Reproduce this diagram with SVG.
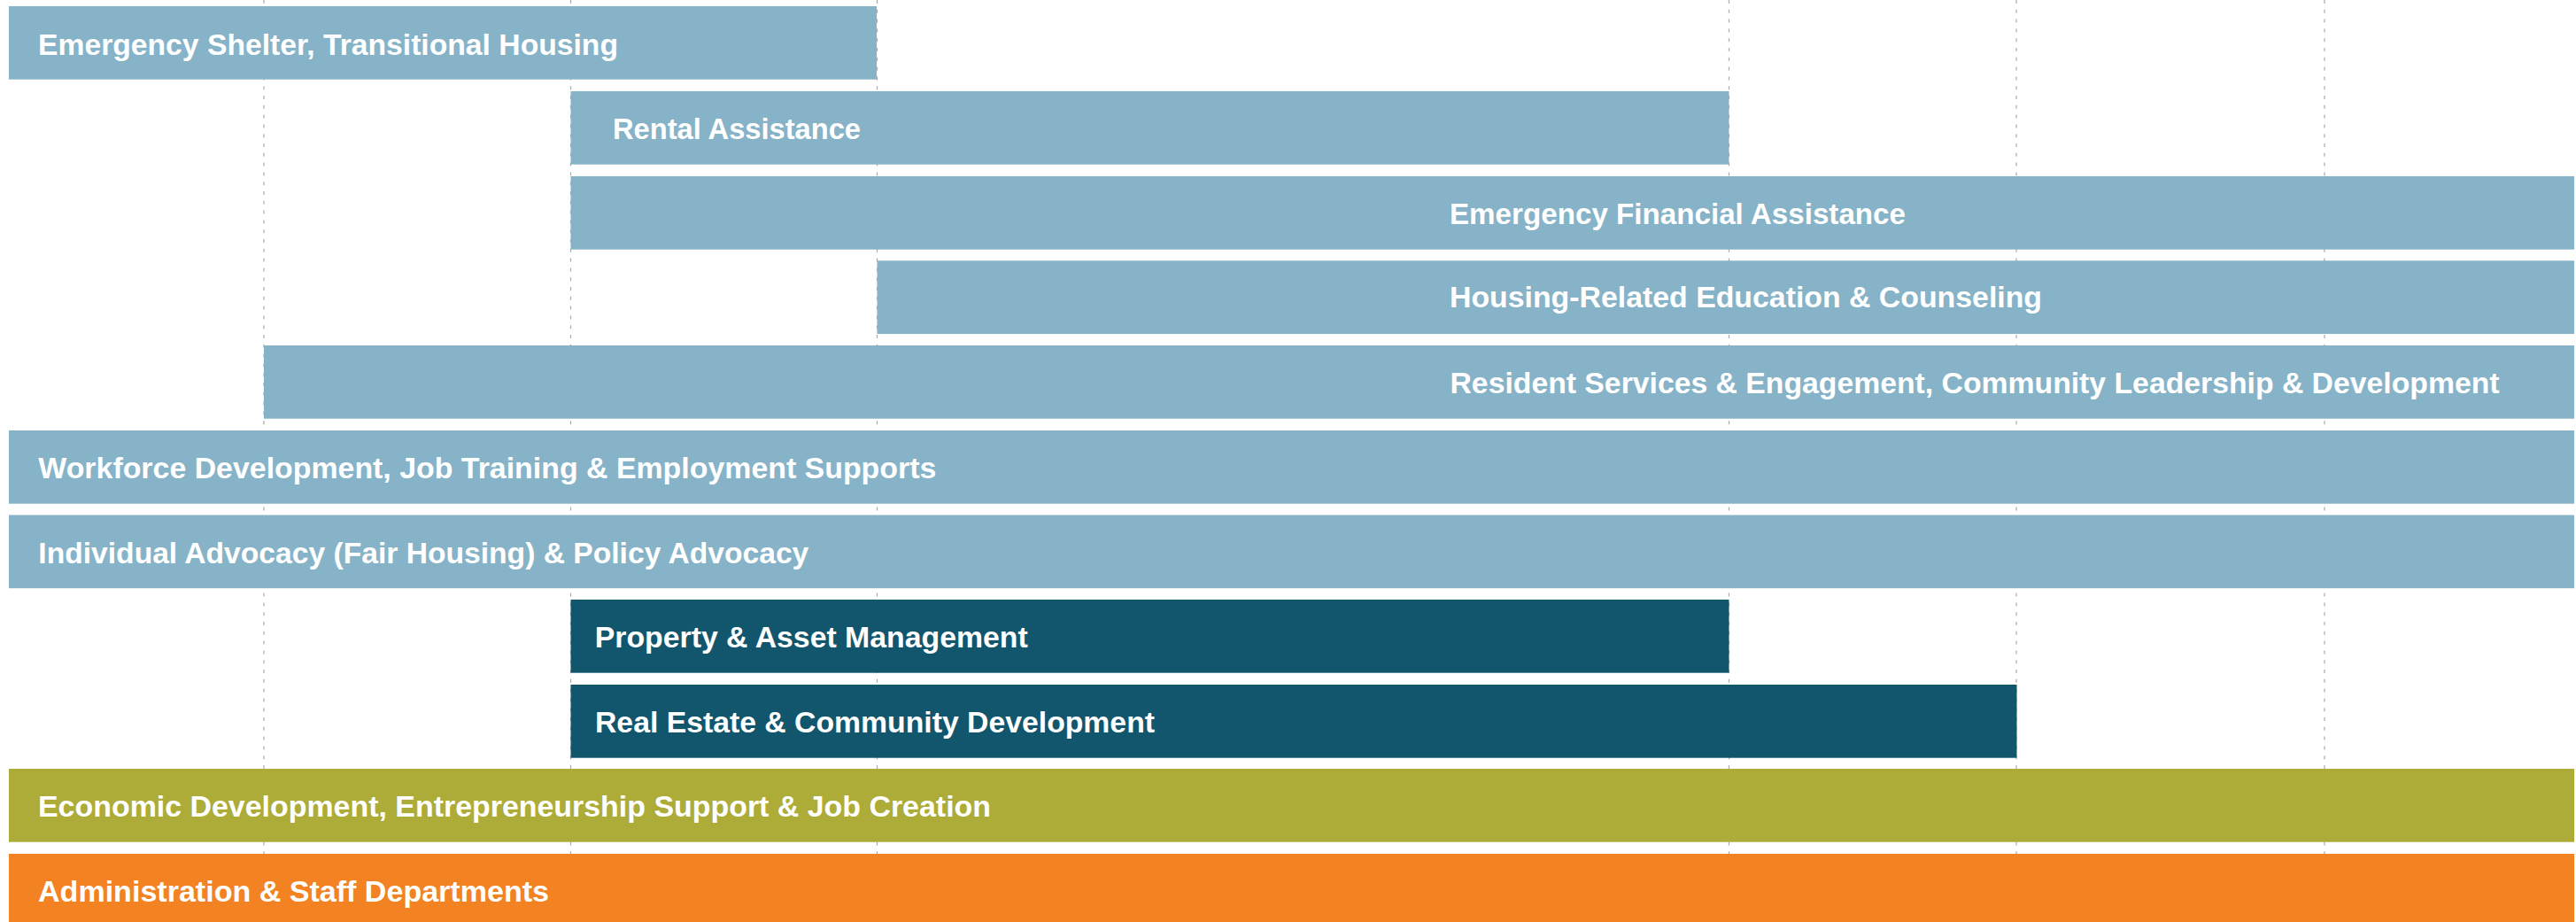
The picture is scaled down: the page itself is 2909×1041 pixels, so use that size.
<svg xmlns="http://www.w3.org/2000/svg" width="2909" height="1041" viewBox="0 0 2909 1041">
  <style>
    .grid line { stroke: #a8a8a8; stroke-width: 1.2; stroke-dasharray: 4 6.8; }
    .bar { stroke: none; }
    .light { fill: #86B3C8; }
    .dark { fill: #12566E; }
    .green { fill: #ADAC38; }
    .orange { fill: #F38322; }
    .lbl { font-family: "Liberation Sans", Arial, sans-serif; font-weight: 700; font-size: 33px; fill: #ffffff; }
  </style>
  <rect x="0" y="0" width="2909" height="1041" fill="#ffffff"/>

  <!-- dashed timeline guides behind the bars -->
  <g id="gridlines" class="grid">
    <line x1="298" y1="0" x2="298" y2="1041"/>
    <line x1="644.5" y1="0" x2="644.5" y2="1041"/>
    <line x1="990.5" y1="0" x2="990.5" y2="1041"/>
    <line x1="1952.5" y1="0" x2="1952.5" y2="1041"/>
    <line x1="2277" y1="0" x2="2277" y2="1041"/>
    <line x1="2625" y1="0" x2="2625" y2="1041"/>
  </g>

  <g id="emergency-shelter">
    <rect class="bar light" x="10" y="7" width="980" height="82.7"/>
    <text class="lbl" x="43" y="61.5" textLength="655" lengthAdjust="spacingAndGlyphs">Emergency Shelter, Transitional Housing</text>
  </g>
  <g id="rental-assistance">
    <rect class="bar light" x="644.5" y="103" width="1308" height="82.7"/>
    <text class="lbl" x="692" y="157.3" textLength="280" lengthAdjust="spacingAndGlyphs">Rental Assistance</text>
  </g>
  <g id="emergency-financial">
    <rect class="bar light" x="644.5" y="199" width="2262.5" height="82.7"/>
    <text class="lbl" x="1637" y="252.7" textLength="515" lengthAdjust="spacingAndGlyphs">Emergency Financial Assistance</text>
  </g>
  <g id="housing-education">
    <rect class="bar light" x="990.5" y="294.3" width="1916.5" height="82.7"/>
    <text class="lbl" x="1637" y="347" textLength="669" lengthAdjust="spacingAndGlyphs">Housing-Related Education &amp; Counseling</text>
  </g>
  <g id="resident-services">
    <rect class="bar light" x="298" y="390" width="2609" height="82.7"/>
    <text class="lbl" x="1637.5" y="444" textLength="1185" lengthAdjust="spacingAndGlyphs">Resident Services &amp; Engagement, Community Leadership &amp; Development</text>
  </g>
  <g id="workforce">
    <rect class="bar light" x="10" y="486" width="2897" height="82.7"/>
    <text class="lbl" x="43.3" y="540" textLength="1014" lengthAdjust="spacingAndGlyphs">Workforce Development, Job Training &amp; Employment Supports</text>
  </g>
  <g id="advocacy">
    <rect class="bar light" x="10" y="581.5" width="2897" height="82.7"/>
    <text class="lbl" x="43.3" y="635.5" textLength="870" lengthAdjust="spacingAndGlyphs">Individual Advocacy (Fair Housing) &amp; Policy Advocacy</text>
  </g>
  <g id="property-management">
    <rect class="bar dark" x="644.5" y="677" width="1308" height="82.7"/>
    <text class="lbl" x="671.7" y="731" textLength="489" lengthAdjust="spacingAndGlyphs">Property &amp; Asset Management</text>
  </g>
  <g id="real-estate">
    <rect class="bar dark" x="644.5" y="773" width="1633" height="82.7"/>
    <text class="lbl" x="672" y="827" textLength="632" lengthAdjust="spacingAndGlyphs">Real Estate &amp; Community Development</text>
  </g>
  <g id="economic-development">
    <rect class="bar green" x="10" y="868" width="2897" height="82.7"/>
    <text class="lbl" x="43" y="922.3" textLength="1076" lengthAdjust="spacingAndGlyphs">Economic Development, Entrepreneurship Support &amp; Job Creation</text>
  </g>
  <g id="administration">
    <rect class="bar orange" x="10" y="964" width="2897" height="83"/>
    <text class="lbl" x="43" y="1018" textLength="577" lengthAdjust="spacingAndGlyphs">Administration &amp; Staff Departments</text>
  </g>
</svg>
